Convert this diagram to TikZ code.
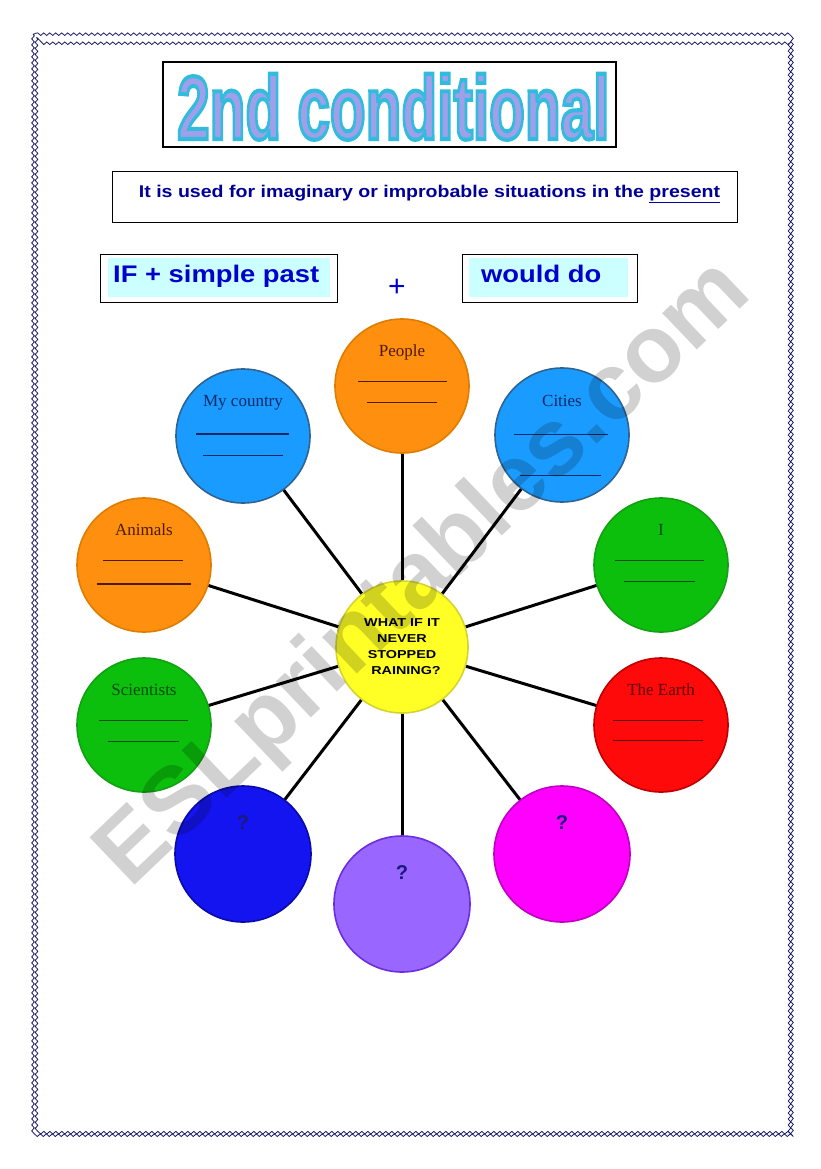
\documentclass[tikz,border=0pt]{standalone}
\usepackage{fontspec}
\setmainfont{Liberation Serif}
\newfontfamily\arialf{Liberation Sans}
\newfontface\titlef{Liberation Sans Bold}[FakeBold=4.5]
\usepackage{graphicx}
\usetikzlibrary{decorations.pathmorphing,backgrounds}

\definecolor{navyT}{HTML}{000099}
\definecolor{blueT}{HTML}{0000CC}
\definecolor{cyanF}{HTML}{CCFFFF}
\definecolor{borderC}{HTML}{1A1A66}
\definecolor{lavF}{HTML}{A0A0EA}
\definecolor{orangeF}{HTML}{FF8F0F}
\definecolor{orangeD}{HTML}{DE7D00}
\definecolor{blueF}{HTML}{1A9BFF}
\definecolor{blueD}{HTML}{2F6394}
\definecolor{greenF}{HTML}{0CBF0C}
\definecolor{greenD}{HTML}{13A013}
\definecolor{redF}{HTML}{FF0A0A}
\definecolor{redD}{HTML}{C00000}
\definecolor{dblueF}{HTML}{1414F0}
\definecolor{dblueD}{HTML}{0A0AAA}
\definecolor{purpleF}{HTML}{9966FF}
\definecolor{purpleD}{HTML}{6A2EE0}
\definecolor{magF}{HTML}{FF00FF}
\definecolor{magD}{HTML}{C000C0}
\definecolor{yellowF}{HTML}{FFFF26}
\definecolor{yellowD}{HTML}{D4D430}
\definecolor{brownT}{HTML}{4D1A00}
\definecolor{navyL}{HTML}{0A2A66}
\definecolor{greenT}{HTML}{0A4A0A}
\definecolor{redT}{HTML}{5A0000}
\definecolor{qT}{HTML}{1A1A7A}

% title: lavender fill, cyan stroke (stroke colour set after the fill colour)
\newcommand\ttlbox[1]{\scalebox{1.17}[1.8]{\color{lavF}\special{pdf:code 0.2 0.733 0.867 RG}\titlef\fontsize{50}{50}\selectfont #1}}
\newcommand\wide[2]{\scalebox{#1}[1]{#2}}

\begin{document}
\begin{tikzpicture}[x=1pt,y=-1pt,
  bub/.style={circle, minimum size=134pt, inner sep=0pt, line width=1.6pt},
  lbl/.style={anchor=base, inner sep=0pt, font=\fontsize{17}{17}\selectfont},
  uline/.style={line width=0.9pt},
  thickline/.style={line width=1.8pt},
  qmark/.style={inner sep=0pt, text=qT, font=\arialf\bfseries\fontsize{20}{20}\selectfont},
  spoke/.style={line width=3pt, black},
  wave/.style={draw=borderC, line width=0.8pt, decorate, decoration={snake, segment length=6pt, amplitude=1.3pt}},
  boxline/.style={draw=black, line width=1pt}
]
\useasboundingbox (0,0) rectangle (821,1169);

% page border (double wavy)
\path[wave] (33,34) rectangle (792,1133);
\path[wave] (36.5,37.5) rectangle (788.5,1129.5);

% title
\draw[boxline, line width=1.3pt] (163,62) rectangle (616,147);
\node[anchor=base west, inner sep=0pt] (title) at (177,139) {\ttlbox{2nd conditional}};

% subtitle
\draw[boxline] (112,172) rectangle (737,222);
\node[anchor=base, inner sep=0pt, text=navyT, font=\arialf\bfseries\fontsize{17}{17}\selectfont] (sub) at (429.5,197)
  {\wide{1.15}{It is used for imaginary or improbable situations in the \underline{present}}};

% formula boxes
\draw[boxline] (100,254) rectangle (337,302);
\fill[cyanF] (108,258) rectangle (330,297);
\node[anchor=base west, inner sep=0pt, text=blueT, font=\arialf\bfseries\fontsize{24}{24}\selectfont] (ifpart) at (113,282)
  {\wide{1.14}{IF + simple past}};
\node[inner sep=0pt, text=blueT, font=\arialf\fontsize{30}{30}\selectfont] (plus) at (397,288) {+};
\draw[boxline] (462,254) rectangle (637,302);
\fill[cyanF] (469,258) rectangle (628,297);
\node[anchor=base west, inner sep=0pt, text=blueT, font=\arialf\bfseries\fontsize{24}{24}\selectfont] (wouldpart) at (481,282)
  {\wide{1.14}{would do}};

% circles
\node[bub, fill=yellowF, draw=yellowD, minimum size=132pt] (c) at (402,647) {};
\node[bub, fill=orangeF, draw=orangeD] (people) at (402,386) {};
\node[bub, fill=blueF, draw=blueD] (country) at (243,436) {};
\node[bub, fill=blueF, draw=blueD] (cities) at (562,435) {};
\node[bub, fill=orangeF, draw=orangeD] (animals) at (144,565) {};
\node[bub, fill=greenF, draw=greenD] (me) at (661,565) {};
\node[bub, fill=greenF, draw=greenD] (sci) at (144,725) {};
\node[bub, fill=redF, draw=redD] (earth) at (661,725) {};
\node[bub, fill=dblueF, draw=dblueD, minimum size=136pt] (q1) at (243,854) {};
\node[bub, fill=purpleF, draw=purpleD, minimum size=136pt] (q2) at (402,904) {};
\node[bub, fill=magF, draw=magD, minimum size=136pt] (q3) at (562,854) {};

\begin{scope}[on background layer]
  \fill[white] (0,0) rectangle (821,1169);
  \foreach \n in {people,country,cities,animals,me,sci,earth,q1,q2,q3}
    \draw[spoke] (c.center) -- (\n.center);
\end{scope}

% centre text
\node[align=center, inner sep=0pt, text=black, font=\arialf\bfseries\fontsize{11.5}{16}\selectfont] (ctext) at (402,647)
  {\wide{1.25}{WHAT IF IT}\\ \wide{1.25}{NEVER}\\ \wide{1.25}{STOPPED}\\ \hspace*{8pt}\wide{1.25}{RAINING?}};

% labels and writing lines
\node[lbl, text=brownT] (lpeople) at (402,356) {People};
\draw[uline, brownT] (358,381) -- (447,381);
\draw[uline, brownT] (367,402) -- (437,402);

\node[lbl, text=navyL] (lcountry) at (243,406) {My country};
\draw[thickline, navyL] (196,434) -- (289,434);
\draw[uline, navyL] (203,455) -- (283,455);

\node[lbl, text=navyL] (lcities) at (562,406) {Cities};
\draw[uline, navyL] (514,434) -- (608,434);
\draw[uline, navyL] (520,475) -- (601,475);

\node[lbl, text=brownT] (lanimals) at (144,535) {Animals};
\draw[uline, brownT] (103,560) -- (183,560);
\draw[thickline, brownT] (97,584) -- (191,584);

\node[lbl, text=greenT] (lme) at (661,535) {I};
\draw[uline, greenT] (615,560) -- (704,560);
\draw[uline, greenT] (624,581) -- (695,581);

\node[lbl, text=greenT] (lsci) at (144,695) {Scientists};
\draw[uline, greenT] (99,720) -- (188,720);
\draw[uline, greenT] (108,741) -- (179,741);

\node[lbl, text=redT] (learth) at (661,695) {The Earth};
\draw[uline, redT] (613,720) -- (703,720);
\draw[uline, redT] (613,740) -- (703,740);

\node[qmark] (lq1) at (243,823) {?};
\node[qmark] (lq2) at (402,873) {?};
\node[qmark] (lq3) at (562,823) {?};

% watermark
\node[rotate=43.6, inner sep=0pt, text=black, text opacity=0.18, font=\arialf\bfseries\fontsize{95}{95}\selectfont] (wm) at (425,575) {ESLprintables.com};
\end{tikzpicture}
\end{document}
